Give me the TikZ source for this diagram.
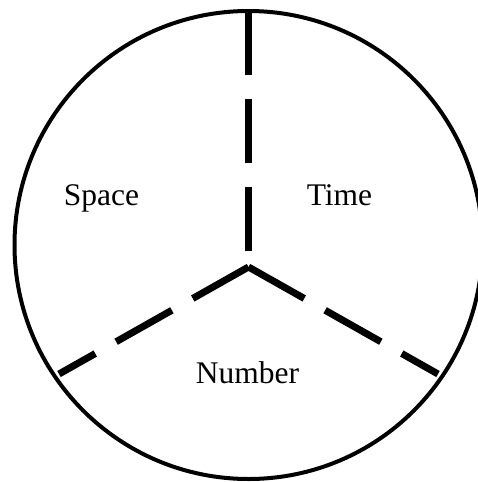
\documentclass[tikz,border=0pt]{standalone}
\usepackage{fontspec}
\setmainfont{Liberation Serif}
\begin{document}
\begin{tikzpicture}[x=1pt,y=-1pt,
  ring/.style={line width=4pt},
  divider/.style={line width=7pt,line cap=butt,dash pattern=on 64pt off 24pt},
  lbl/.style={anchor=base,inner sep=0pt,font=\fontsize{31.5}{36}\selectfont}]
\useasboundingbox (0,0) rectangle (477,482);
\coordinate (c) at (248.5,245);
\draw[ring] (c) circle (234);
\coordinate (top) at (248.5,11);
\coordinate (hub) at (248.5,267);
\coordinate (ll) at (59,374);
\coordinate (lr) at (438,374);
\draw[divider] (top) -- (hub);
\draw[divider] (hub) -- (ll);
\draw[divider] (hub) -- (lr);
\node[lbl] (space) at (101.5,205) {Space};
\node[lbl] (time) at (339.5,205) {Time};
\node[lbl] (number) at (247.5,383) {Number};
\end{tikzpicture}
\end{document}
